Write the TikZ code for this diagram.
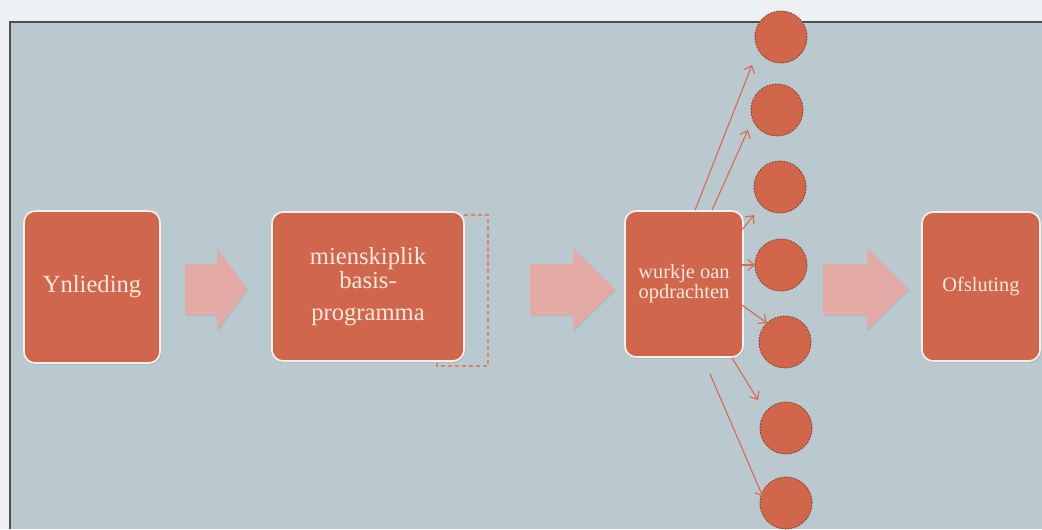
\documentclass[tikz,border=0pt]{standalone}
\usepackage{fontspec}
\setmainfont{Liberation Serif}
\usetikzlibrary{calc,arrows.meta,shadows}
\definecolor{buten}{HTML}{EDF1F3}
\definecolor{paneel}{HTML}{BAC9D0}
\definecolor{rand}{HTML}{4B4F52}
\definecolor{stapfill}{HTML}{D0664B}
\definecolor{staprim}{HTML}{F7F1EC}
\definecolor{staptekst}{HTML}{F7E9E1}
\definecolor{grutpylkcol}{HTML}{E4ABA6}
\definecolor{bolfill}{HTML}{D1664B}
\definecolor{bolrim}{HTML}{8A4736}
\definecolor{pylkcol}{HTML}{D66B55}
\definecolor{streepcol}{HTML}{D88570}
\tikzset{
  stap/.style={rounded corners=8pt,draw=staprim,line width=1.2pt,fill=stapfill,text=staptekst,align=center,inner sep=2pt,
    drop shadow={opacity=0.25,shadow xshift=0.8pt,shadow yshift=-1.2pt}},
  bol/.style={circle,fill=bolfill,draw=bolrim,line width=0.7pt,dash pattern=on 1.2pt off 0.9pt,minimum size=1.3cm,inner sep=0pt},
  pylk/.style={draw=pylkcol,line width=0.8pt,-{Straight Barb[length=4.5pt,width=8pt]}},
  grutpylk/.style={fill=grutpylkcol,drop shadow={opacity=0.2,shadow xshift=0.8pt,shadow yshift=-1pt}}
}
\begin{document}
\begin{tikzpicture}[x=0.025cm,y=-0.025cm]
\useasboundingbox (0,0) rectangle (1042,529);
\fill[buten] (0,0) rectangle (1042,529);
\fill[paneel] (10,22) rectangle (1042,529);
\draw[rand,line width=1.2pt] (10,529) -- (10,22) -- (1042,22);
% dashed frame behind the second box
\draw[streepcol,line width=0.8pt,dash pattern=on 3pt off 2pt] (437,215) rectangle (488,366);
% steps
\node[stap,minimum width=3.4cm,minimum height=3.8cm,font=\fontsize{17.5}{21}\selectfont] (yn) at (92,287) {Ynlieding};
\node[stap,minimum width=4.8cm,minimum height=3.725cm,font=\fontsize{17.5}{21}\selectfont] (mbp) at (368,286.5) {mienskiplik\\[-4pt]basis-\\[2pt]programma};
\node[stap,minimum width=2.95cm,minimum height=3.65cm,font=\fontsize{14.5}{12}\selectfont] (wurk) at (684,284) {wurkje oan\\opdrachten};
\node[stap,minimum width=2.95cm,minimum height=3.725cm,font=\fontsize{14.5}{17}\selectfont] (ofs) at (981,286.5) {Ofsluting};
% big arrows between the steps
\foreach \a/\b/\c in {185/217/247, 530/573/615, 823/867/908}
  \fill[grutpylk] (\a,264) -- (\b,264) -- (\b,248) -- (\c,289) -- (\b,330) -- (\b,315) -- (\a,315) -- cycle;
% circles
\foreach \i/\x/\y in {1/781/37, 2/777/110, 3/780/187, 4/781/265, 5/785/342, 6/786/428, 7/786/503}
  \node[bol] (c\i) at (\x,\y) {};
% thin arrows
\draw[pylk] ($(wurk.north)+(11,0)$) -- ($(c1)+(-29,28)$);
\draw[pylk] ($(wurk.north)+(28,0)$) -- ($(c2)+(-29,20)$);
\draw[pylk] ($(wurk.east)+(-2,-54)$) -- ($(c3)+(-26,28)$);
\draw[pylk] ($(wurk.east)+(-2,-19)$) -- ($(c4)+(-26,0)$);
\draw[pylk] ($(wurk.east)+(-2,21)$) -- ($(c5)+(-18,-19)$);
\draw[pylk] ($(wurk.south)+(48,0)$) -- ($(c6)+(-28,-28)$);
\draw[pylk] ($(wurk.south)+(26,16)$) -- ($(c7)+(-23,-6)$);
\end{tikzpicture}
\end{document}
